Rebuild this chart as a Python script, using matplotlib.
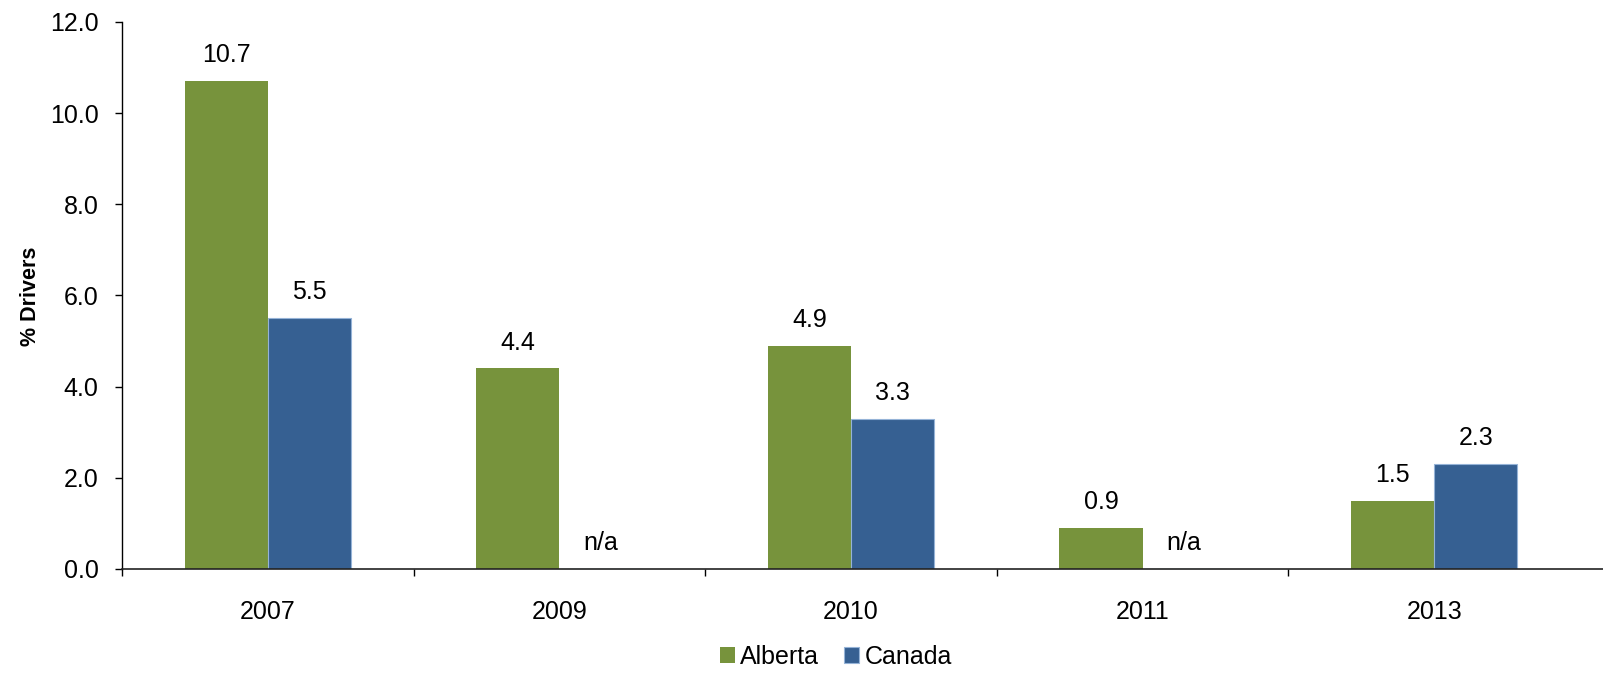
import numpy as np
import matplotlib
matplotlib.use("Agg")
import matplotlib.pyplot as plt

matplotlib.rc('font', family=['Liberation Sans', 'DejaVu Sans'])

years = ['2007', '2009', '2010', '2011', '2013']
alberta = [10.7, 4.4, 4.9, 0.9, 1.5]
canada = [5.5, None, 3.3, None, 2.3]
series_names = ['Alberta', 'Canada']
green = '#77933C'
blue = '#366092'

fig = plt.figure(figsize=(16.03, 6.81), dpi=100)
ax = fig.add_axes([0.0761, 0.1645, 1 - 0.0761, 0.8032])

x = np.arange(len(years))
w = 0.285
ab = ax.bar(x - w / 2, alberta, w, color=green, linewidth=0, label=series_names[0])
cvals = [v if v is not None else 0 for v in canada]
cb = ax.bar(x + w / 2, cvals, w, color=blue, edgecolor='#95B3D7', linewidth=0.8,
            label=series_names[1])

for xi, v in zip(x, alberta):
    ax.annotate('%.1f' % v, (xi - w / 2, v), xytext=(0, 10), textcoords='offset points',
                ha='center', va='bottom', fontsize=18)
for xi, v in zip(x, canada):
    txt = '%.1f' % v if v is not None else 'n/a'
    ax.annotate(txt, (xi + w / 2, v if v is not None else 0), xytext=(0, 10),
                textcoords='offset points', ha='center', va='bottom', fontsize=18)

ax.set_ylim(0, 12)
ax.set_xlim(-0.5, 4.5 + 23 / 291.5)
ax.set_yticks(np.arange(0, 12.1, 2))
ax.set_yticklabels(['%.1f' % t for t in np.arange(0, 12.1, 2)], fontsize=18)
ax.tick_params(axis='y', direction='out', length=5, pad=12, width=1)

ax.set_xticks(np.arange(-0.5, 4.0, 1.0))
ax.set_xticklabels([])
ax.tick_params(axis='x', which='major', direction='out', length=5, width=1)
ax.set_xticks(x, minor=True)
ax.set_xticklabels(years, minor=True, fontsize=18)
ax.tick_params(axis='x', which='minor', length=0, pad=22)

for s in ['top', 'right']:
    ax.spines[s].set_visible(False)
ax.spines['left'].set_linewidth(1)
ax.spines['bottom'].set_linewidth(1.2)
ax.spines['bottom'].set_color('#222222')

fig.text(0.019, 0.5645, '% Drivers', rotation=90, fontsize=15.5, fontweight='bold',
         ha='center', va='center')

fig.legend(handles=[ab, cb], labels=series_names, loc='center', bbox_to_anchor=(0.5215, 0.035),
           ncol=2, frameon=False, fontsize=18, handlelength=0.6, handleheight=0.6,
           handletextpad=0.2, columnspacing=1.0, borderpad=0)

fig.savefig('out.png', dpi=100)
